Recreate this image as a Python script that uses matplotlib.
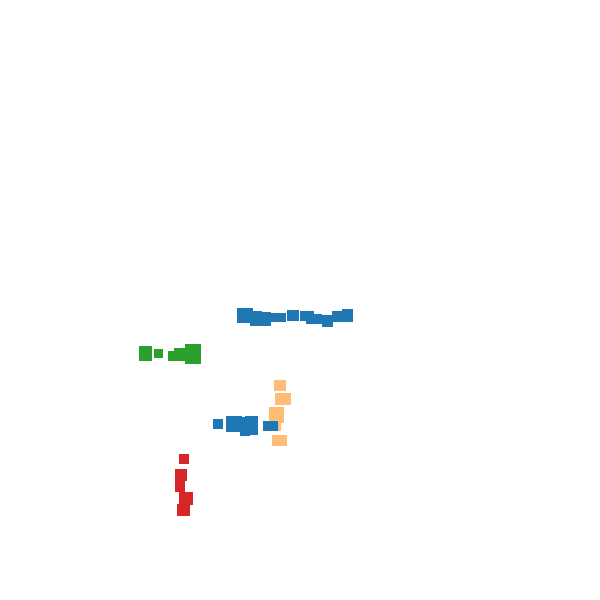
import matplotlib
matplotlib.use('Agg')
import matplotlib.pyplot as plt

# boxes as (left, right, top, bottom), in picture units
orange_x0 = [274, 275, 269, 271, 272]
orange_x1 = [286, 291, 284, 281, 287]
orange_y0 = [380, 393, 407, 418, 435]
orange_y1 = [391, 405, 423, 431, 446]

blue_x0 = [237, 250, 258, 268, 274, 287, 300, 306, 322, 332, 342,
           213, 226, 240, 245, 263]
blue_x1 = [253, 262, 271, 278, 286, 299, 314, 322, 333, 345, 353,
           223, 242, 250, 258, 278]
blue_y0 = [308, 311, 312, 313, 313, 310, 311, 314, 315, 311, 309,
           419, 416, 417, 416, 421]
blue_y1 = [323, 326, 326, 322, 322, 321, 321, 324, 327, 322, 322,
           429, 432, 436, 435, 431]

green_x0 = [139, 154, 168, 174, 185]
green_x1 = [152, 163, 175, 185, 201]
green_y0 = [346, 349, 351, 348, 344]
green_y1 = [361, 358, 361, 361, 364]

red_x0 = [179, 175, 175, 179, 177]
red_x1 = [189, 187, 185, 193, 190]
red_y0 = [454, 469, 480, 492, 504]
red_y1 = [464, 481, 492, 505, 516]

groups = [
    (orange_x0, orange_x1, orange_y0, orange_y1, '#ffbb78'),
    (blue_x0, blue_x1, blue_y0, blue_y1, '#1f77b4'),
    (green_x0, green_x1, green_y0, green_y1, '#2ca02c'),
    (red_x0, red_x1, red_y0, red_y1, '#d62728'),
]

fig = plt.figure(figsize=(6, 6), dpi=100)
ax = fig.add_axes([0, 0, 1, 1])
ax.set_xlim(0, 600)
ax.set_ylim(600, 0)
ax.axis('off')

for x0, x1, y0, y1, c in groups:
    for i in range(len(x0)):
        ax.add_patch(plt.Rectangle((x0[i], y0[i]), x1[i] - x0[i], y1[i] - y0[i],
                                   facecolor=c, edgecolor='none'))

fig.savefig('out.png', dpi=100)
